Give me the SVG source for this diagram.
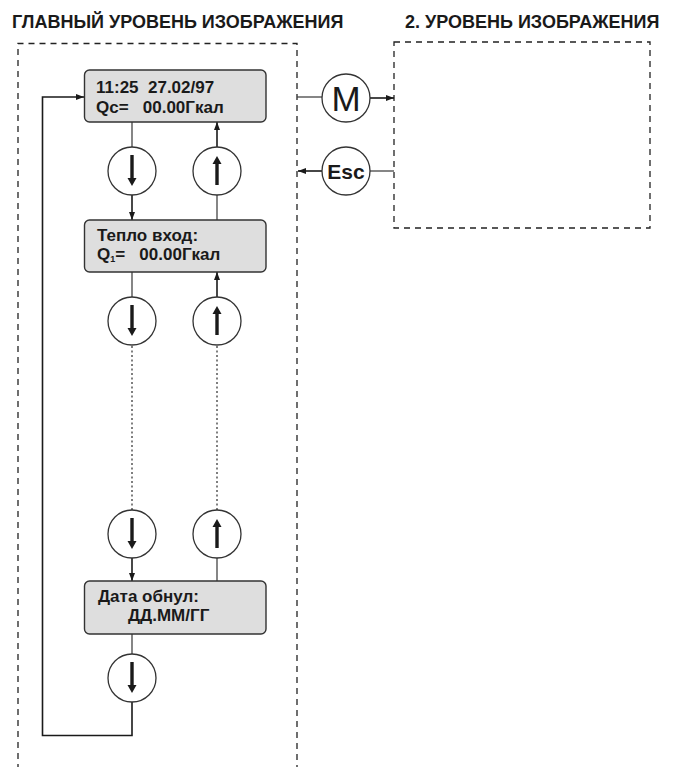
<svg xmlns="http://www.w3.org/2000/svg" width="673" height="767" viewBox="0 0 673 767">
<defs>
<style>
.title{font-family:"Liberation Sans",Arial,sans-serif;font-weight:bold;font-size:18px;fill:#1a1a1a}
.btxt{font-family:"Liberation Sans",Arial,sans-serif;font-weight:bold;font-size:17px;fill:#1a1a1a;white-space:pre}
.frame{fill:none;stroke:#222;stroke-width:1.3;stroke-dasharray:6 5}
.box{fill:#dedede;stroke:#333;stroke-width:1.4}
.key{fill:#fff;stroke:#333;stroke-width:1.3}
.glyph{fill:#1a1a1a}
.ln{fill:none;stroke:#444;stroke-width:1.3}
.ar{fill:none;stroke:#1a1a1a;stroke-width:1.6;marker-end:url(#arr)}
.dot{fill:none;stroke:#555;stroke-width:1.5;stroke-dasharray:2 2.5}
</style>
<marker id="arr" markerUnits="userSpaceOnUse" markerWidth="8" markerHeight="6" refX="8" refY="3" orient="auto">
<path d="M0,0 L8,3 L0,6 z" fill="#1a1a1a"/>
</marker>
<g id="downGlyph"><rect x="-1.7" y="-16" width="3.4" height="24" class="glyph"/><path d="M-4.5,7 L4.5,7 L0,15 z" class="glyph"/></g>
<g id="upGlyph"><rect x="-1.7" y="-8" width="3.4" height="22" class="glyph"/><path d="M-4.5,-7 L4.5,-7 L0,-15 z" class="glyph"/></g>
</defs>
<rect width="673" height="767" fill="#fff"/>

<g id="titles">
<text class="title" x="12" y="28">ГЛАВНЫЙ УРОВЕНЬ ИЗОБРАЖЕНИЯ</text>
<text class="title" x="405" y="28">2. УРОВЕНЬ ИЗОБРАЖЕНИЯ</text>
</g>

<g id="frames">
<path class="frame" d="M18,770 L18,43.5 L297,43.5 L297,770"/>
<rect class="frame" x="394" y="42" width="256" height="186"/>
</g>

<g id="connectors">
<line class="ln" x1="132" y1="122" x2="132" y2="147"/>
<line class="ar" x1="132" y1="195" x2="132" y2="220"/>
<line class="ln" x1="217" y1="220" x2="217" y2="195"/>
<line class="ar" x1="217" y1="147" x2="217" y2="122"/>
<line class="ln" x1="132" y1="272" x2="132" y2="297"/>
<line class="ar" x1="217" y1="297" x2="217" y2="272"/>
<line class="dot" x1="132" y1="346" x2="132" y2="510"/>
<line class="dot" x1="217" y1="346" x2="217" y2="510"/>
<line class="ar" x1="132" y1="558" x2="132" y2="581"/>
<line class="ln" x1="217" y1="581" x2="217" y2="558"/>
<line class="ln" x1="132" y1="634" x2="132" y2="654"/>
<path class="ar" d="M132,702 L132,735.5 L42.5,735.5 L42.5,97 L84,97"/>
<line class="ln" x1="297" y1="97" x2="322" y2="97"/>
<line class="ar" x1="370" y1="98" x2="394" y2="98"/>
<line class="ln" x1="394" y1="171" x2="370" y2="171"/>
<line class="ar" x1="322" y1="171" x2="298" y2="171"/>
</g>

<g id="box1">
<rect class="box" x="84.5" y="70" width="181.5" height="52" rx="5"/>
<text class="btxt" x="96" y="93" xml:space="preserve">11:25  27.02/97</text>
<text class="btxt" x="96" y="113" xml:space="preserve">Qc=   00.00Гкал</text>
</g>

<g id="box2">
<rect class="box" x="84.5" y="220" width="181.5" height="52" rx="5"/>
<text class="btxt" x="97" y="241">Тепло вход:</text>
<text class="btxt" x="97" y="260" xml:space="preserve">Q<tspan font-size="9" dy="2">1</tspan><tspan dy="-2">=   00.00Гкал</tspan></text>
</g>

<g id="box3">
<rect class="box" x="84.5" y="581" width="181.5" height="53" rx="5"/>
<text class="btxt" x="98" y="602">Дата обнул:</text>
<text class="btxt" x="128" y="621">ДД.ММ/ГГ</text>
</g>

<g id="down1"><circle class="key" cx="132" cy="171" r="24"/><use href="#downGlyph" x="132" y="171"/></g>
<g id="up1"><circle class="key" cx="217" cy="171" r="24"/><use href="#upGlyph" x="217" y="171"/></g>
<g id="down2"><circle class="key" cx="132" cy="321" r="24"/><use href="#downGlyph" x="132" y="321"/></g>
<g id="up2"><circle class="key" cx="217" cy="321" r="24"/><use href="#upGlyph" x="217" y="321"/></g>
<g id="down3"><circle class="key" cx="132" cy="534" r="24"/><use href="#downGlyph" x="132" y="534"/></g>
<g id="up3"><circle class="key" cx="217" cy="534" r="24"/><use href="#upGlyph" x="217" y="534"/></g>
<g id="down4"><circle class="key" cx="132" cy="678" r="24"/><use href="#downGlyph" x="132" y="678"/></g>

<g id="keyM">
<circle class="key" cx="346" cy="98" r="24"/>
<text x="346" y="111" text-anchor="middle" font-family="'Liberation Sans',Arial,sans-serif" font-size="35" fill="#1a1a1a">M</text>
</g>
<g id="keyEsc">
<circle class="key" cx="346" cy="171" r="24"/>
<text x="346" y="179" text-anchor="middle" font-family="'Liberation Sans',Arial,sans-serif" font-weight="bold" font-size="21" fill="#1a1a1a">Esc</text>
</g>
</svg>
